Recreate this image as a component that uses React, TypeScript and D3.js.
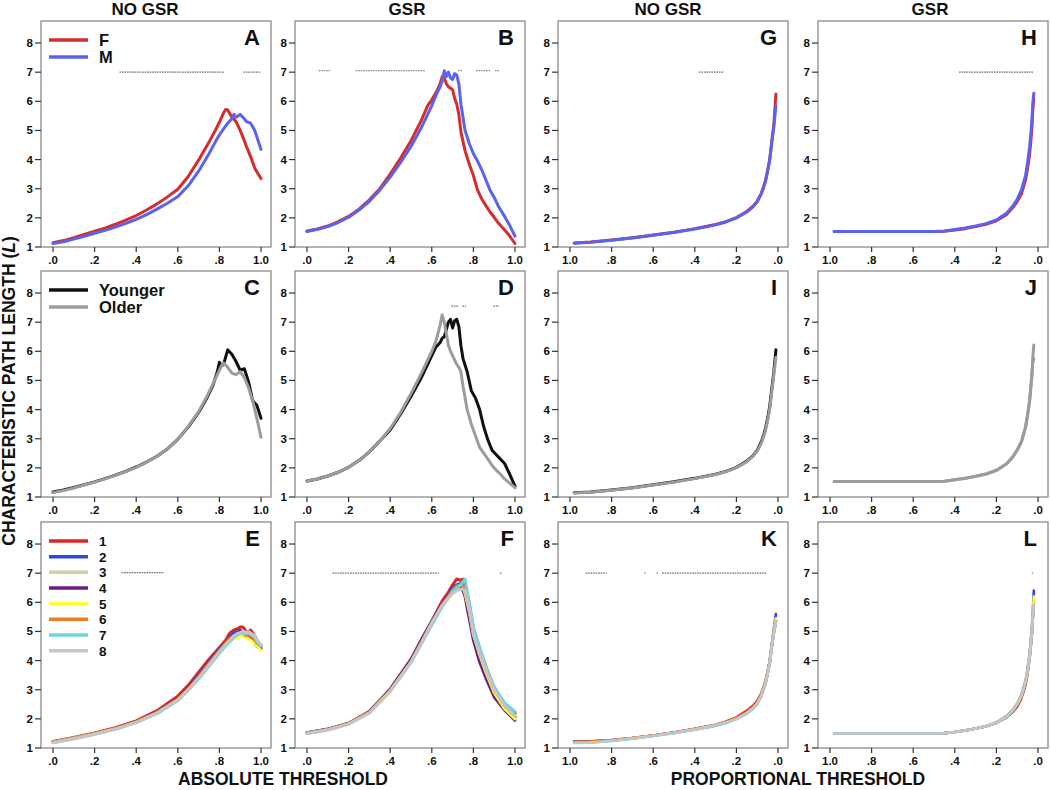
import React from 'react';
import * as d3 from 'd3';

// ---------- x grids ----------
const xA = [0, .05, .1, .15, .2, .25, .3, .35, .4, .45, .5, .55, .6, .65, .7, .75, .78, .8, .82, .83, .84, .86, .87, .88, .9, .92, .93, .95, .97, 1];
const xB = [0, .05, .1, .15, .2, .25, .3, .35, .4, .45, .5, .55, .58, .6, .62, .64, .65, .66, .67, .68, .69, .7, .71, .72, .73, .74, .76, .78, .8, .82, .84, .86, .88, .9, .92, .95, .97, 1];
const xC = [0, .05, .1, .15, .2, .25, .3, .35, .4, .45, .5, .55, .6, .65, .7, .74, .77, .79, .8, .81, .82, .84, .86, .88, .9, .92, .94, .96, .98, 1];
const xD = [0, .05, .1, .15, .2, .25, .3, .35, .4, .45, .5, .55, .6, .62, .64, .65, .66, .67, .68, .69, .7, .71, .72, .73, .74, .75, .77, .79, .81, .83, .85, .87, .89, .91, .93, .95, .97, 1];
const xE = [0, .1, .2, .3, .4, .5, .6, .65, .7, .75, .8, .83, .85, .87, .89, .9, .91, .92, .93, .94, .95, .96, .97, .98, 1];
const xF = [0, .1, .2, .3, .4, .5, .55, .6, .65, .68, .7, .72, .74, .75, .76, .77, .78, .8, .83, .86, .9, .95, 1];
const xP = [.98, .9, .8, .7, .6, .5, .4, .3, .25, .2, .15, .12, .1, .08, .07, .06, .05, .04, .03, .02, .01];
const xQ = [.98, .9, .8, .7, .6, .5, .45, .4, .35, .3, .25, .2, .15, .12, .1, .08, .06, .05, .04, .03, .025, .02];

// ---------- panel A (no GSR, sex) ----------
const A_F = [1.15, 1.22, 1.32, 1.43, 1.54, 1.65, 1.78, 1.92, 2.08, 2.27, 2.48, 2.72, 2.98, 3.42, 3.98, 4.6, 5.0, 5.28, 5.6, 5.72, 5.7, 5.45, 5.38, 5.3, 5.0, 4.65, 4.45, 4.1, 3.7, 3.35];
const A_M = [1.12, 1.18, 1.27, 1.37, 1.47, 1.57, 1.68, 1.81, 1.95, 2.11, 2.3, 2.5, 2.73, 3.1, 3.6, 4.2, 4.6, 4.85, 5.05, 5.15, 5.25, 5.4, 5.55, 5.45, 5.55, 5.4, 5.3, 5.25, 5.0, 4.35];
// ---------- panel B (GSR, sex) ----------
const B_F = [1.55, 1.62, 1.72, 1.87, 2.05, 2.3, 2.62, 3.0, 3.5, 4.05, 4.65, 5.35, 5.85, 6.05, 6.3, 6.6, 6.85, 6.8, 6.6, 6.5, 6.45, 6.4, 6.1, 5.9, 5.55, 4.95, 4.3, 3.85, 3.45, 2.95, 2.65, 2.42, 2.2, 2.02, 1.82, 1.58, 1.42, 1.12];
const B_M = [1.53, 1.61, 1.7, 1.84, 2.02, 2.27, 2.57, 2.95, 3.4, 3.9, 4.45, 5.1, 5.55, 5.85, 6.2, 6.5, 6.7, 7.05, 6.85, 7.0, 6.8, 6.75, 6.95, 6.9, 6.6, 5.9, 5.0, 4.55, 4.2, 3.95, 3.65, 3.3, 2.95, 2.7, 2.4, 2.05, 1.8, 1.37];
// ---------- panel C (no GSR, age) ----------
const C_Y = [1.17, 1.24, 1.33, 1.42, 1.52, 1.63, 1.75, 1.88, 2.03, 2.2, 2.4, 2.65, 2.98, 3.4, 3.9, 4.4, 4.85, 5.3, 5.62, 5.5, 5.55, 6.05, 5.9, 5.65, 5.35, 5.4, 4.95, 4.3, 4.15, 3.7];
const C_O = [1.15, 1.22, 1.31, 1.41, 1.51, 1.62, 1.74, 1.87, 2.02, 2.19, 2.4, 2.65, 2.98, 3.42, 3.93, 4.45, 4.9, 5.2, 5.35, 5.5, 5.6, 5.45, 5.25, 5.2, 5.3, 5.1, 4.75, 4.3, 3.7, 3.05];
// ---------- panel D (GSR, age) ----------
const D_Y = [1.55, 1.62, 1.72, 1.85, 2.02, 2.25, 2.55, 2.92, 3.3, 3.85, 4.45, 5.1, 5.85, 6.15, 6.3, 6.45, 6.5, 6.75, 7.0, 7.1, 6.8, 7.05, 7.1, 6.85, 6.2, 5.75, 5.3, 4.65, 4.4, 4.0, 3.4, 2.95, 2.6, 2.45, 2.3, 2.15, 1.85, 1.37];
const D_O = [1.55, 1.62, 1.72, 1.85, 2.02, 2.25, 2.55, 2.92, 3.35, 3.9, 4.55, 5.25, 6.0, 6.35, 6.9, 7.25, 7.0, 6.6, 6.2, 6.0, 5.85, 5.7, 5.55, 5.45, 5.3, 4.8, 4.0, 3.5, 3.1, 2.7, 2.5, 2.3, 2.08, 1.92, 1.78, 1.62, 1.5, 1.32];
// ---------- panel E (no GSR, sites 1-8) ----------
const E_1 = [1.22, 1.36, 1.52, 1.7, 1.93, 2.28, 2.78, 3.15, 3.6, 4.05, 4.45, 4.7, 4.95, 5.05, 5.1, 5.15, 5.15, 5.1, 4.95, 5.0, 5.05, 4.95, 4.85, 4.7, 4.5];
const E_2 = [1.2, 1.34, 1.49, 1.67, 1.9, 2.22, 2.7, 3.05, 3.5, 3.95, 4.4, 4.6, 4.8, 4.95, 5.0, 5.05, 4.95, 4.9, 4.85, 4.9, 4.95, 4.8, 4.75, 4.6, 4.45];
const E_3 = [1.19, 1.33, 1.48, 1.66, 1.89, 2.2, 2.67, 3.02, 3.42, 3.85, 4.3, 4.55, 4.7, 4.8, 4.9, 4.92, 4.95, 4.9, 4.85, 4.85, 4.9, 4.8, 4.7, 4.6, 4.5];
const E_4 = [1.2, 1.34, 1.49, 1.67, 1.9, 2.23, 2.7, 3.05, 3.45, 3.9, 4.35, 4.6, 4.75, 4.85, 4.9, 5.0, 4.95, 4.9, 4.85, 4.8, 4.75, 4.7, 4.6, 4.5, 4.4];
const E_5 = [1.2, 1.34, 1.49, 1.66, 1.89, 2.21, 2.66, 3.0, 3.4, 3.85, 4.3, 4.5, 4.65, 4.75, 4.8, 4.85, 4.85, 4.8, 4.8, 4.75, 4.7, 4.65, 4.6, 4.5, 4.35];
const E_6 = [1.2, 1.34, 1.49, 1.67, 1.9, 2.22, 2.68, 3.03, 3.45, 3.9, 4.35, 4.6, 4.75, 4.85, 4.9, 4.95, 4.95, 4.9, 4.85, 4.9, 4.85, 4.8, 4.7, 4.6, 4.5];
const E_7 = [1.19, 1.32, 1.47, 1.64, 1.87, 2.18, 2.62, 2.97, 3.37, 3.8, 4.25, 4.5, 4.65, 4.8, 4.9, 4.95, 4.95, 4.9, 4.95, 4.95, 4.9, 4.85, 4.8, 4.65, 4.5];
const E_8 = [1.18, 1.32, 1.47, 1.65, 1.88, 2.2, 2.65, 3.0, 3.4, 3.85, 4.3, 4.55, 4.7, 4.85, 4.95, 4.95, 5.0, 5.0, 4.95, 5.0, 4.95, 4.9, 4.85, 4.7, 4.55];
// ---------- panel F (GSR, sites 1-8) ----------
const F_1 = [1.52, 1.65, 1.85, 2.25, 3.0, 4.0, 4.7, 5.35, 6.05, 6.35, 6.6, 6.8, 6.75, 6.8, 6.5, 6.3, 5.95, 5.1, 4.4, 3.8, 3.05, 2.5, 2.2];
const F_2 = [1.52, 1.64, 1.84, 2.23, 2.98, 3.97, 4.65, 5.3, 5.95, 6.25, 6.5, 6.6, 6.65, 6.6, 6.35, 6.1, 5.8, 4.95, 4.25, 3.7, 3.0, 2.45, 2.05];
const F_3 = [1.51, 1.63, 1.83, 2.22, 2.97, 3.96, 4.62, 5.28, 5.9, 6.2, 6.4, 6.55, 6.55, 6.5, 6.4, 6.15, 5.85, 5.0, 4.3, 3.75, 3.05, 2.45, 2.1];
const F_4 = [1.51, 1.63, 1.84, 2.25, 3.02, 4.05, 4.72, 5.35, 5.95, 6.2, 6.35, 6.45, 6.5, 6.4, 6.2, 5.8, 5.45, 4.7, 3.95, 3.4, 2.75, 2.3, 1.95];
const F_5 = [1.51, 1.63, 1.83, 2.22, 2.96, 3.95, 4.6, 5.25, 5.85, 6.15, 6.35, 6.5, 6.6, 6.55, 6.3, 6.0, 5.7, 4.9, 4.2, 3.6, 2.9, 2.35, 2.0];
const F_6 = [1.51, 1.63, 1.84, 2.23, 2.98, 3.97, 4.64, 5.3, 5.92, 6.2, 6.4, 6.55, 6.6, 6.55, 6.4, 6.1, 5.8, 4.95, 4.3, 3.7, 3.0, 2.45, 2.1];
const F_7 = [1.5, 1.62, 1.82, 2.2, 2.95, 3.93, 4.58, 5.22, 5.85, 6.15, 6.35, 6.5, 6.6, 6.7, 6.8, 6.4, 6.0, 5.15, 4.45, 3.8, 3.1, 2.55, 2.25];
const F_8 = [1.5, 1.62, 1.82, 2.2, 2.95, 3.95, 4.6, 5.3, 5.9, 6.15, 6.3, 6.4, 6.45, 6.45, 6.4, 6.1, 5.75, 4.9, 4.25, 3.7, 3.0, 2.45, 2.1];
// ---------- panel G (no GSR, sex, proportional) ----------
const G_F = [1.14, 1.17, 1.24, 1.32, 1.41, 1.51, 1.63, 1.77, 1.87, 2.01, 2.22, 2.4, 2.57, 2.85, 3.05, 3.28, 3.62, 4.0, 4.62, 5.2, 6.25];
const G_M = [1.13, 1.16, 1.23, 1.31, 1.4, 1.5, 1.62, 1.76, 1.86, 2.0, 2.2, 2.38, 2.55, 2.83, 3.03, 3.26, 3.6, 3.97, 4.58, 5.12, 5.85];
// ---------- panel H (GSR, sex, proportional) ----------
const H_F = [1.53, 1.53, 1.53, 1.53, 1.53, 1.53, 1.54, 1.58, 1.63, 1.7, 1.78, 1.9, 2.12, 2.36, 2.56, 2.82, 3.3, 3.7, 4.2, 5.0, 5.7, 6.1];
const H_M = [1.53, 1.53, 1.53, 1.53, 1.53, 1.53, 1.55, 1.6, 1.65, 1.72, 1.8, 1.93, 2.17, 2.42, 2.64, 2.95, 3.45, 3.9, 4.45, 5.25, 5.95, 6.28];
// ---------- panel I (no GSR, age, proportional) ----------
const I_Y = [1.15, 1.17, 1.24, 1.32, 1.42, 1.52, 1.64, 1.78, 1.88, 2.02, 2.23, 2.42, 2.6, 2.9, 3.1, 3.35, 3.7, 4.1, 4.7, 5.3, 6.05];
const I_O = [1.14, 1.16, 1.23, 1.31, 1.41, 1.51, 1.63, 1.77, 1.87, 2.01, 2.21, 2.4, 2.57, 2.85, 3.05, 3.28, 3.62, 4.0, 4.6, 5.2, 5.8];
// ---------- panel J (GSR, age, proportional) ----------
const J_Y = [1.53, 1.53, 1.53, 1.53, 1.53, 1.53, 1.54, 1.59, 1.64, 1.71, 1.79, 1.91, 2.14, 2.38, 2.6, 2.88, 3.38, 3.8, 4.3, 5.1, 5.6, 5.75];
const J_O = [1.53, 1.53, 1.53, 1.53, 1.53, 1.53, 1.54, 1.59, 1.64, 1.71, 1.79, 1.92, 2.15, 2.4, 2.62, 2.9, 3.4, 3.85, 4.35, 5.15, 5.8, 6.22];
// ---------- panel K (no GSR, sites, proportional) ----------
const K_1 = [1.2, 1.21, 1.26, 1.34, 1.43, 1.53, 1.66, 1.8, 1.91, 2.05, 2.28, 2.45, 2.62, 2.88, 3.08, 3.3, 3.62, 3.98, 4.5, 5.0, 5.35];
const K_2 = [1.22, 1.22, 1.26, 1.33, 1.42, 1.52, 1.64, 1.77, 1.87, 2.0, 2.2, 2.37, 2.54, 2.82, 3.02, 3.25, 3.6, 3.98, 4.55, 5.1, 5.6];
const K_3 = [1.19, 1.2, 1.25, 1.33, 1.42, 1.52, 1.64, 1.78, 1.88, 2.01, 2.21, 2.38, 2.55, 2.82, 3.02, 3.24, 3.57, 3.92, 4.47, 4.98, 5.38];
const K_4 = [1.23, 1.23, 1.27, 1.34, 1.43, 1.53, 1.65, 1.78, 1.88, 2.01, 2.2, 2.37, 2.53, 2.8, 3.0, 3.22, 3.55, 3.9, 4.45, 4.95, 5.35];
const K_5 = [1.2, 1.21, 1.26, 1.33, 1.42, 1.52, 1.64, 1.78, 1.88, 2.01, 2.21, 2.38, 2.55, 2.82, 3.02, 3.25, 3.58, 3.95, 4.5, 5.05, 5.45];
const K_6 = [1.21, 1.22, 1.26, 1.34, 1.43, 1.53, 1.65, 1.79, 1.89, 2.02, 2.22, 2.39, 2.56, 2.83, 3.03, 3.25, 3.58, 3.93, 4.48, 4.98, 5.36];
const K_7 = [1.17, 1.18, 1.24, 1.32, 1.41, 1.51, 1.63, 1.76, 1.86, 1.99, 2.18, 2.35, 2.51, 2.78, 2.98, 3.2, 3.53, 3.88, 4.43, 4.93, 5.33];
const K_8 = [1.18, 1.19, 1.25, 1.33, 1.42, 1.52, 1.64, 1.78, 1.88, 2.0, 2.2, 2.37, 2.53, 2.8, 3.0, 3.22, 3.55, 3.9, 4.45, 4.95, 5.35];
// ---------- panel L (GSR, sites, proportional) ----------
const L_1 = [1.5, 1.5, 1.5, 1.5, 1.5, 1.5, 1.51, 1.55, 1.6, 1.67, 1.75, 1.86, 2.05, 2.25, 2.42, 2.7, 3.15, 3.55, 4.1, 4.85, 5.45, 6.0];
const L_2 = [1.5, 1.5, 1.5, 1.5, 1.5, 1.5, 1.51, 1.55, 1.6, 1.67, 1.75, 1.88, 2.1, 2.32, 2.52, 2.82, 3.3, 3.72, 4.25, 5.05, 5.7, 6.4];
const L_3 = [1.5, 1.5, 1.5, 1.5, 1.5, 1.5, 1.51, 1.55, 1.6, 1.67, 1.75, 1.87, 2.08, 2.3, 2.5, 2.78, 3.25, 3.65, 4.15, 4.9, 5.5, 5.9];
const L_4 = [1.5, 1.5, 1.5, 1.5, 1.5, 1.5, 1.51, 1.55, 1.6, 1.67, 1.75, 1.87, 2.08, 2.3, 2.5, 2.78, 3.25, 3.65, 4.15, 4.9, 5.5, 5.85];
const L_5 = [1.5, 1.5, 1.5, 1.5, 1.5, 1.5, 1.51, 1.55, 1.6, 1.67, 1.75, 1.88, 2.09, 2.31, 2.51, 2.8, 3.28, 3.7, 4.2, 4.95, 5.6, 6.2];
const L_6 = [1.5, 1.5, 1.5, 1.5, 1.5, 1.5, 1.51, 1.55, 1.6, 1.67, 1.75, 1.87, 2.08, 2.3, 2.5, 2.78, 3.25, 3.65, 4.15, 4.9, 5.5, 5.9];
const L_7 = [1.5, 1.5, 1.5, 1.5, 1.5, 1.5, 1.51, 1.55, 1.6, 1.67, 1.75, 1.87, 2.08, 2.3, 2.5, 2.78, 3.25, 3.65, 4.15, 4.9, 5.5, 5.9];
const L_8 = [1.5, 1.5, 1.5, 1.5, 1.5, 1.5, 1.51, 1.55, 1.6, 1.67, 1.75, 1.87, 2.08, 2.3, 2.5, 2.78, 3.25, 3.65, 4.15, 4.9, 5.45, 5.9];

// ---------- labels & ticks ----------
const colTitles = ['NO GSR', 'GSR', 'NO GSR', 'GSR'];
const yTicks = [1, 2, 3, 4, 5, 6, 7, 8];
const xTicks = [0, 0.2, 0.4, 0.6, 0.8, 1.0];
const xTickLabels = ['.0', '.2', '.4', '.6', '.8', '1.0'];
const sexLabels = ['F', 'M'];
const ageLabels = ['Younger', 'Older'];
const siteLabels = ['1', '2', '3', '4', '5', '6', '7', '8'];

// ---------- colours ----------
const sexColors = ['#d62c2c', '#5a62f2'];
const ageColors = ['#111111', '#9c9c9c'];
const siteColors = ['#e02424', '#2a4ae8', '#c8d6a0', '#6b1f86', '#ffff33', '#f07c1e', '#6fd3dc', '#c6c6c6'];

type Series = { xs: number[]; ys: number[]; color: string; w: number };
type Sig = { a: number; b: number; v: number };
type PanelDef = {
  letter: string; row: number; col: number; prop: boolean;
  series: Series[]; sig: Sig[]; legend?: 'sex' | 'age' | 'site';
};

const mk = (xs: number[], arrs: number[][], colors: string[], w: number): Series[] =>
  arrs.map((ys, i) => ({ xs, ys, color: colors[i], w }));

const panels: PanelDef[] = [
  { letter: 'A', row: 0, col: 0, prop: false, series: mk(xA, [A_F, A_M], sexColors, 3), legend: 'sex',
    sig: [{ a: 0.32, b: 0.825, v: 7 }, { a: 0.915, b: 1.0, v: 7 }] },
  { letter: 'B', row: 0, col: 1, prop: false, series: mk(xB, [B_F, B_M], sexColors, 3),
    sig: [{ a: 0.056, b: 0.11, v: 7.05 }, { a: 0.234, b: 0.57, v: 7.05 }, { a: 0.726, b: 0.745, v: 7.05 }, { a: 0.813, b: 0.88, v: 7.05 }, { a: 0.904, b: 0.923, v: 7.05 }] },
  { letter: 'C', row: 1, col: 0, prop: false, series: mk(xC, [C_Y, C_O], ageColors, 3), legend: 'age', sig: [] },
  { letter: 'D', row: 1, col: 1, prop: false, series: mk(xD, [D_Y, D_O], ageColors, 3),
    sig: [{ a: 0.694, b: 0.726, v: 7.55 }, { a: 0.748, b: 0.764, v: 7.55 }, { a: 0.896, b: 0.923, v: 7.55 }] },
  { letter: 'E', row: 2, col: 0, prop: false, series: mk(xE, [E_1, E_2, E_3, E_4, E_5, E_6, E_7, E_8], siteColors, 3), legend: 'site',
    sig: [{ a: 0.33, b: 0.53, v: 7.02 }] },
  { letter: 'F', row: 2, col: 1, prop: false, series: mk(xF, [F_1, F_2, F_3, F_4, F_5, F_6, F_7, F_8], siteColors, 3),
    sig: [{ a: 0.123, b: 0.633, v: 7 }, { a: 0.927, b: 0.935, v: 7 }] },
  { letter: 'G', row: 0, col: 2, prop: true, series: mk(xP, [G_F, G_M], sexColors, 3),
    sig: [{ a: 0.38, b: 0.264, v: 7 }] },
  { letter: 'H', row: 0, col: 3, prop: true, series: mk(xQ, [H_F, H_M], sexColors, 3),
    sig: [{ a: 0.38, b: 0.024, v: 7 }] },
  { letter: 'I', row: 1, col: 2, prop: true, series: mk(xP, [I_Y, I_O], ageColors, 3), sig: [] },
  { letter: 'J', row: 1, col: 3, prop: true, series: mk(xQ, [J_Y, J_O], ['#9c9c9c', '#9c9c9c'], 3), sig: [] },
  { letter: 'K', row: 2, col: 2, prop: true, series: mk(xP, [K_1, K_2, K_3, K_4, K_5, K_6, K_7, K_8], siteColors, 2.6),
    sig: [{ a: 0.925, b: 0.824, v: 7 }, { a: 0.643, b: 0.637, v: 7 }, { a: 0.583, b: 0.577, v: 7 }, { a: 0.557, b: 0.053, v: 7 }] },
  { letter: 'L', row: 2, col: 3, prop: true, series: mk(xQ, [L_1, L_2, L_3, L_4, L_5, L_6, L_7, L_8], siteColors, 2.6),
    sig: [{ a: 0.03, b: 0.024, v: 7 }] },
];

// ---------- layout ----------
const COL_LEFT = [41, 295, 558, 818];
const ROW_TOP = [21, 271, 522];
const FW = 230;
const FH = 226;
const PADL = 12;
const PADR = 10;
const YMAX = 8.756;
const FONT = '"Liberation Sans", Arial, Helvetica, sans-serif';

function Panel({ p }: { p: PanelDef }) {
  const left = COL_LEFT[p.col];
  const top = ROW_TOP[p.row];
  const x = d3.scaleLinear().domain(p.prop ? [1, 0] : [0, 1]).range([left + PADL, left + FW - PADR]);
  const y = d3.scaleLinear().domain([1, YMAX]).range([top + FH, top]);
  const line = d3.line<[number, number]>().x(d => x(d[0])).y(d => y(d[1])).curve(d3.curveLinear);
  const bottom = top + FH;

  let legendItems: { label: string; color: string }[] = [];
  if (p.legend === 'sex') legendItems = sexLabels.map((l, i) => ({ label: l, color: sexColors[i] }));
  if (p.legend === 'age') legendItems = ageLabels.map((l, i) => ({ label: l, color: ageColors[i] }));
  if (p.legend === 'site') legendItems = siteLabels.map((l, i) => ({ label: l, color: siteColors[i] }));
  const legStep = p.legend === 'site' ? 15.67 : 17;
  const legStart = top + 19;
  const legFont = p.legend === 'site' ? 13.5 : 16.5;

  return (
    <g>
      <rect x={left} y={top} width={FW} height={FH} fill="#fff" stroke="#8a8a8a" strokeWidth={1.3} />
      {p.sig.map((s, i) => (
        <line key={'s' + i} x1={x(s.a)} x2={x(s.b)} y1={y(s.v)} y2={y(s.v)}
          stroke="#6e6e6e" strokeWidth={1.1} strokeDasharray="1.6 0.9" />
      ))}
      {p.series.map((s, i) => (
        <path key={'l' + i} d={line(s.xs.map((xv, j) => [xv, s.ys[j]] as [number, number])) || ''}
          fill="none" stroke={s.color} strokeWidth={s.w} strokeLinejoin="round" strokeLinecap="round" />
      ))}
      {yTicks.map(t => (
        <g key={'y' + t}>
          <line x1={left - 6} x2={left} y1={y(t)} y2={y(t)} stroke="#333" strokeWidth={1.2} />
          <text x={left - 8} y={y(t) + 4} textAnchor="end" fontSize={11.5} fontWeight="bold" fill="#111" fontFamily={FONT}>{t}</text>
        </g>
      ))}
      {xTicks.map((t, i) => (
        <g key={'x' + i}>
          <line x1={x(t)} x2={x(t)} y1={bottom} y2={bottom + 5} stroke="#333" strokeWidth={1.2} />
          <text x={x(t)} y={bottom + 17} textAnchor="middle" fontSize={11.5} fontWeight="bold" fill="#111" fontFamily={FONT}>{xTickLabels[i]}</text>
        </g>
      ))}
      <text x={left + FW - 11} y={top + 24} textAnchor="end" fontSize={22} fontWeight="bold" fill="#111" fontFamily={FONT}>{p.letter}</text>
      {legendItems.map((it, i) => (
        <g key={'g' + i}>
          <line x1={left + 8} x2={left + 47} y1={legStart + i * legStep} y2={legStart + i * legStep}
            stroke={it.color} strokeWidth={3.5} />
          <text x={left + 58} y={legStart + i * legStep + (p.legend === 'site' ? 5 : 6)} fontSize={legFont} fontWeight="bold" fill="#111" fontFamily={FONT}>{it.label}</text>
        </g>
      ))}
    </g>
  );
}

const titleX = [145, 407, 668, 930];

export default function App() {
  return (
    <svg width={1050} height={790} style={{ position: 'absolute', left: 0, top: 0, background: '#fff' }}>
      <rect x={0} y={0} width={1050} height={790} fill="#fff" />
      {colTitles.map((t, i) => (
        <text key={t + i} x={titleX[i]} y={14.5} textAnchor="middle" fontSize={17} fontWeight="bold" fill="#111" fontFamily={FONT}>{t}</text>
      ))}
      {panels.map(p => <Panel key={p.letter} p={p} />)}
      <text transform="translate(15,391) rotate(-90)" textAnchor="middle" fontSize={17.5} fontWeight="bold" fill="#111" fontFamily={FONT}>
        CHARACTERISTIC PATH LENGTH (<tspan fontStyle="italic">L</tspan>)
      </text>
      <text x={283} y={785} textAnchor="middle" fontSize={17.5} fontWeight="bold" fill="#111" fontFamily={FONT}>ABSOLUTE THRESHOLD</text>
      <text x={798} y={785} textAnchor="middle" fontSize={17.5} fontWeight="bold" fill="#111" fontFamily={FONT}>PROPORTIONAL THRESHOLD</text>
    </svg>
  );
}
